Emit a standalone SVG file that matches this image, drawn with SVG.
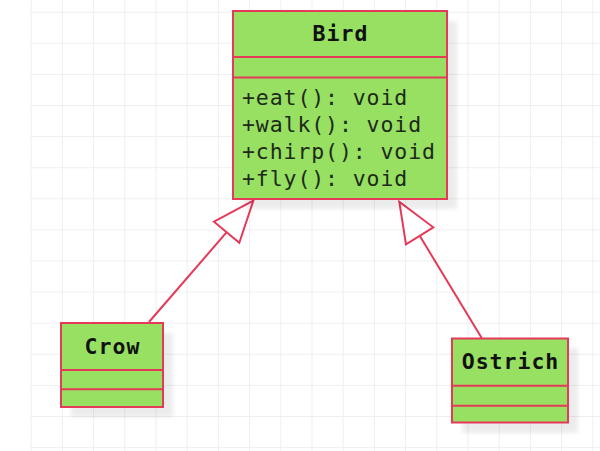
<svg xmlns="http://www.w3.org/2000/svg" width="600" height="451" viewBox="0 0 600 451">
<defs>
<pattern id="grid" patternUnits="userSpaceOnUse" x="30.7" y="11.7" width="31.2" height="31.1">
<path d="M0.5 0V31.1M0 0.5H31.2" fill="none" stroke="#efefef" stroke-width="1"/>
</pattern>
<filter id="blur" x="-20%" y="-20%" width="140%" height="140%"><feGaussianBlur stdDeviation="2"/></filter>
</defs>
<style>
.box{fill:#97e062;stroke:#e5395a;stroke-width:2}
.sep{stroke:#e5395a;stroke-width:2}
.shadow{fill:#000;opacity:0.07;filter:url(#blur)}
.title{font-family:"DejaVu Sans Mono",monospace;font-weight:bold;font-size:21.5px;letter-spacing:1px;fill:#111;text-anchor:middle}
.m{font-family:"DejaVu Sans Mono",monospace;font-size:21.5px;letter-spacing:0.9px;fill:#1e2a1a}
.conn{fill:none;stroke:#e5395a;stroke-width:2}
.head{fill:#fff;stroke:#e5395a;stroke-width:2;stroke-linejoin:miter}
</style>
<rect width="600" height="451" fill="#fff"/>
<rect x="30" y="0" width="570" height="451" fill="url(#grid)"/>
<g id="connectors">
<line class="conn" x1="226.7" y1="232.2" x2="149" y2="322"/>
<polygon class="head" points="253.3,200.7 214,221.7 239.3,242.7"/>
<line class="conn" x1="419.7" y1="235.8" x2="481.7" y2="338"/>
<polygon class="head" points="399.3,201.7 433.3,227.3 406,244.3"/>
</g>
<g id="bird">
<rect class="shadow" x="243" y="21" width="214" height="188"/>
<rect class="box" x="233" y="11" width="214" height="188"/>
<line class="sep" x1="233" y1="57" x2="447" y2="57"/>
<line class="sep" x1="233" y1="77.5" x2="447" y2="77.5"/>
<text class="title" x="340.5" y="40.5">Bird</text>
<text class="m" x="242" y="104.5">+eat(): void</text>
<text class="m" x="242" y="131.8">+walk(): void</text>
<text class="m" x="242" y="159">+chirp(): void</text>
<text class="m" x="242" y="186.3">+fly(): void</text>
</g>
<g id="crow">
<rect class="shadow" x="71" y="333" width="102" height="84"/>
<rect class="box" x="61" y="323" width="102" height="84"/>
<line class="sep" x1="61" y1="370" x2="163" y2="370"/>
<line class="sep" x1="61" y1="389.3" x2="163" y2="389.3"/>
<text class="title" x="112.5" y="353.5">Crow</text>
</g>
<g id="ostrich">
<rect class="shadow" x="462" y="348" width="116" height="85"/>
<rect class="box" x="452" y="338.5" width="116" height="84"/>
<line class="sep" x1="452" y1="385.7" x2="568" y2="385.7"/>
<line class="sep" x1="452" y1="405.7" x2="568" y2="405.7"/>
<text class="title" x="510.5" y="368.5">Ostrich</text>
</g>
</svg>
